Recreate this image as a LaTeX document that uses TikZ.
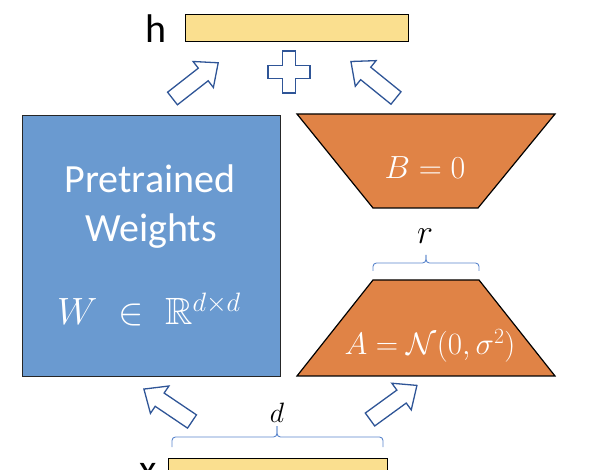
\RequirePackage{fix-cm}
\documentclass[tikz,border=0pt]{standalone}
\usepackage{amsmath,amssymb}
\usepackage{fontspec}
\setmainfont{Carlito}
\definecolor{barfill}{HTML}{FADF8F}
\definecolor{wfill}{HTML}{6A9AD0}
\definecolor{trapfill}{HTML}{E08346}
\definecolor{arrowblue}{HTML}{2F5597}
\definecolor{braceblue}{HTML}{5B86CC}
\begin{document}
\begin{tikzpicture}[x=1pt,y=-1pt,
  bar/.style={draw=black, line width=1.2pt, fill=barfill, inner sep=0pt, anchor=north west},
  wbox/.style={draw=black!85, line width=1pt, fill=wfill, inner sep=0pt, anchor=north west},
  trap/.style={draw=black, line width=1.2pt, fill=trapfill},
  outl/.style={draw=arrowblue, line width=1.3pt, fill=white, line join=miter},
  bracestyle/.style={draw=braceblue, line width=0.9pt, rounded corners=3.5pt},
  big/.style={font=\fontsize{40}{48}\selectfont, inner sep=0pt, anchor=base},
  wtxt/.style={font=\fontsize{40}{48}\selectfont, text=white, inner sep=0pt, anchor=base},
  pics/barrow/.style={code={\draw[outl] (0,-8) -- (39,-8) -- (39,-16.5) -- (58,0) -- (39,16.5) -- (39,8) -- (0,8) -- cycle;}}
]
\useasboundingbox (0,0) rectangle (592,470);
\clip (0,0) rectangle (592,470);

% output bar h
\node[bar, minimum width=223pt, minimum height=27pt] (hbar) at (185,14) {};
\node[big] (hlab) at (156,43) {h};

% input bar x
\node[bar, minimum width=219pt, minimum height=30pt] (xbar) at (168,458) {};
\node[big] (xlab) at (148,482) {x};

% pretrained weights
\node[wbox, minimum width=258pt, minimum height=261pt] (W) at (22,115) {};
\node[wtxt] (wl1) at (150,193) {Pretrained};
\node[wtxt] (wl2) at (151,242) {Weights};
\node[text=white, inner sep=0pt, anchor=base, font=\fontsize{38}{44}\selectfont] (wl3) at (149,325) {$W \;\in\; \mathbb{R}^{d\times d}$};

% B trapezoid
\draw[trap] (297,114) -- (555,114) -- (478,208) -- (373,208) -- cycle;
\node[text=white, inner sep=0pt, anchor=base, font=\fontsize{32}{38}\selectfont] (B) at (425,179) {$B = 0$};

% A trapezoid
\draw[trap] (373,280) -- (479,280) -- (555,376) -- (297,376) -- cycle;
\node[text=white, inner sep=0pt, anchor=base, font=\fontsize{31}{36}\selectfont] (A) at (430,355) {$A = \mathcal{N}(0,\sigma^2)$};

% braces
\draw[bracestyle] (373,271) -- (373,263) -- (426,263) -- (426,255);
\draw[bracestyle] (479,271) -- (479,263) -- (426,263) -- (426,255);
\node[inner sep=0pt, anchor=base, font=\fontsize{34}{40}\selectfont] (rlab) at (425,244) {$r$};

\draw[bracestyle] (172,447) -- (172,437) -- (277,437) -- (277,426);
\draw[bracestyle] (383,447) -- (383,437) -- (277,437) -- (277,426);
\node[inner sep=0pt, anchor=base, font=\fontsize{28}{34}\selectfont] (dlab) at (277,422) {$d$};

% plus sign
\draw[outl] (282.5,51) -- ++(13,0) -- ++(0,14.5) -- ++(14.5,0) -- ++(0,13) -- ++(-14.5,0) -- ++(0,14.5) -- ++(-13,0) -- ++(0,-14.5) -- ++(-14.5,0) -- ++(0,-13) -- ++(14.5,0) -- cycle;

% block arrows
\pic[rotate=38] at (172.5,98.5) {barrow};
\pic[rotate=141] at (396,98) {barrow};
\pic[rotate=146] at (192,421.5) {barrow};
\pic[rotate=36] at (370,419.5) {barrow};
\end{tikzpicture}
\end{document}
